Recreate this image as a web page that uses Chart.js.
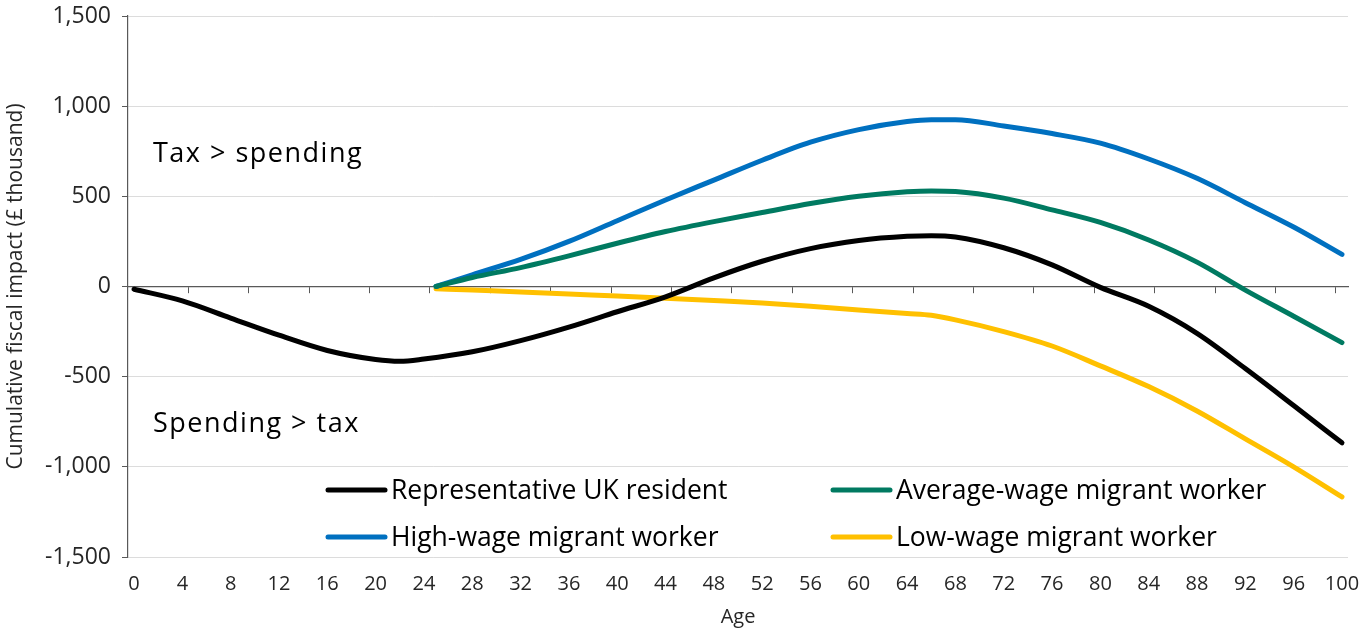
<!DOCTYPE html>
<html>
<head>
<meta charset="utf-8">
<script src="https://cdn.jsdelivr.net/npm/chart.js@4.4.1/dist/chart.umd.min.js"></script>
<style>
  html, body { margin: 0; padding: 0; background: #fff; }
  #wrap { width: 1366px; height: 633px; position: relative; }
</style>
</head>
<body>
<div id="wrap"><canvas id="chart"></canvas></div>
<script>
// DATA
const residentAges = [0, 4, 8, 12, 16, 20, 22, 24, 28, 32, 36, 40, 44, 48, 52, 56, 60, 64, 66, 68, 72, 76, 80, 84, 88, 92, 96, 100];
const residentValues = [-15, -80, -175, -270, -355, -405, -415, -402, -362, -300, -225, -140, -57, 48, 140, 210, 255, 278, 282, 275, 215, 120, -5, -110, -260, -455, -660, -867];

const migrantAges = [25, 28, 32, 36, 40, 44, 48, 52, 56, 60, 64, 66, 68, 72, 76, 80, 84, 88, 92, 96, 100];
const averageWageValues = [0, 50, 105, 170, 240, 305, 360, 410, 460, 500, 525, 530, 527, 490, 425, 355, 258, 135, -20, -165, -311];
const highWageValues = [0, 65, 150, 250, 365, 480, 590, 700, 800, 870, 915, 925, 925, 890, 848, 795, 707, 600, 465, 330, 178];
const lowWageValues = [-12, -20, -30, -42, -52, -65, -78, -92, -110, -130, -150, -160, -185, -250, -330, -440, -555, -690, -845, -1000, -1167];

const seriesNames = ["Representative UK resident", "Average-wage migrant worker", "High-wage migrant worker", "Low-wage migrant worker"];
const seriesColors = ["#000000", "#007A61", "#0070C0", "#FFC000"];

const xTickLabels = [0, 4, 8, 12, 16, 20, 24, 28, 32, 36, 40, 44, 48, 52, 56, 60, 64, 68, 72, 76, 80, 84, 88, 92, 96, 100];
const zeroLineTicks = [4.5, 9.5, 14.5, 19.5, 24.5, 29.5, 34.5, 39.5, 44.5, 49.5, 54.5, 59.5, 64.5, 69.5, 74.5, 79.5, 84.5, 89.5, 94.5, 99.5];
const yTickValues = [-1500, -1000, -500, 0, 500, 1000, 1500];

const FONT = "'Open Sans', sans-serif";

function points(ages, values) {
  return ages.map((a, i) => ({ x: a, y: values[i] }));
}

const seriesData = [
  points(residentAges, residentValues),
  points(migrantAges, averageWageValues),
  points(migrantAges, highWageValues),
  points(migrantAges, lowWageValues)
];

const datasets = seriesNames.map((name, i) => ({
  label: name,
  data: seriesData[i],
  borderColor: seriesColors[i],
  backgroundColor: seriesColors[i],
  borderWidth: 5,
  borderCapStyle: "round",
  borderJoinStyle: "round",
  pointRadius: 0,
  cubicInterpolationMode: "monotone",
  fill: false,
  order: i
}));

// TEXT LABELS + LEGEND INSIDE THE PLOT
const overlayPlugin = {
  id: "overlay",
  afterDraw(chart) {
    const ctx = chart.ctx;
    const area = chart.chartArea;
    ctx.save();
    ctx.fillStyle = "#000";
    ctx.textBaseline = "alphabetic";
    ctx.textAlign = "left";
    ctx.font = "27px " + FONT;
    ctx.letterSpacing = "1.5px";
    ctx.fillText("Tax > spending", area.left + 25, 162);
    ctx.fillText("Spending > tax", area.left + 25, 432);

    // legend, 2 columns x 2 rows
    const cols = [328, 833];
    const rows = [499, 546];
    ctx.font = "26.5px " + FONT;
    ctx.letterSpacing = "0px";
    chart.data.datasets.forEach((ds, i) => {
      const cx = cols[i % 2];
      const by = rows[Math.floor(i / 2)];
      ctx.strokeStyle = ds.borderColor;
      ctx.lineWidth = 5;
      ctx.lineCap = "round";
      ctx.beginPath();
      ctx.moveTo(cx, by - 9);
      ctx.lineTo(cx + 57, by - 9);
      ctx.stroke();
      ctx.fillStyle = "#000";
      ctx.fillText(ds.label, cx + 63, by);
    });
    ctx.restore();
  }
};

new Chart(document.getElementById("chart"), {
  type: "line",
  data: { datasets },
  options: {
    responsive: true,
    maintainAspectRatio: false,
    animation: false,
    layout: { padding: { top: 16, right: 18, left: 0, bottom: 0 } },
    plugins: {
      legend: { display: false },
      tooltip: { enabled: false }
    },
    scales: {
      x: {
        type: "linear",
        position: "bottom",
        min: -0.5,
        max: 100.5,
        afterBuildTicks: (s) => { s.ticks = xTickLabels.map(v => ({ value: v })); },
        afterFit: (s) => { s.height = 76; s.paddingLeft = 0; s.paddingRight = 0; },
        grid: { display: false },
        border: { display: false },
        ticks: {
          color: "#262626",
          font: { family: FONT, size: 20 },
          padding: 7,
          maxRotation: 0,
          autoSkip: false
        },
        title: {
          display: true,
          text: "Age",
          color: "#262626",
          font: { family: FONT, size: 20 },
          padding: { top: 0, bottom: 4 }
        }
      },
      x2: {
        type: "linear",
        position: { y: 0 },
        min: -0.5,
        max: 100.5,
        afterBuildTicks: (s) => { s.ticks = zeroLineTicks.map(v => ({ value: v })); },
        afterFit: (s) => { s.paddingLeft = 0; s.paddingRight = 0; },
        grid: {
          drawOnChartArea: false,
          drawTicks: true,
          tickLength: 6,
          tickColor: "#595959"
        },
        border: { display: true, color: "#595959", width: 1.2 },
        ticks: { display: false }
      },
      y: {
        min: -1500,
        max: 1500,
        afterBuildTicks: (s) => { s.ticks = yTickValues.map(v => ({ value: v })); },
        afterFit: (s) => { s.width = 128; s.paddingTop = 0; s.paddingBottom = 0; },
        grid: {
          color: "#dcdcdc",
          lineWidth: 1,
          tickLength: 6,
          tickColor: "#595959"
        },
        border: { display: true, color: "#595959", width: 1.2 },
        ticks: {
          color: "#262626",
          font: { family: FONT, size: 23 },
          padding: 11,
          callback: (v) => v.toLocaleString("en-US")
        },
        title: {
          display: true,
          text: "Cumulative fiscal impact (£ thousand)",
          color: "#262626",
          font: { family: FONT, size: 21 },
          padding: { top: 3, bottom: 0 }
        }
      }
    }
  },
  plugins: [overlayPlugin]
});
</script>
</body>
</html>
